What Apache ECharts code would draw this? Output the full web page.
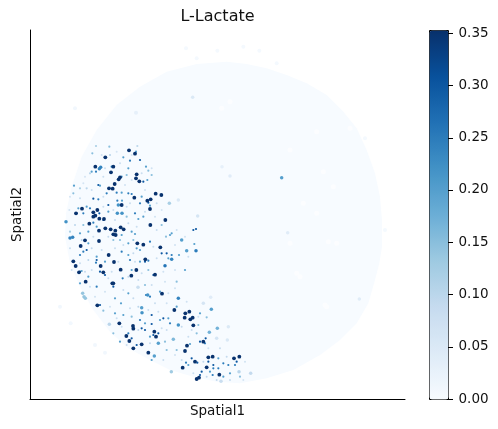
<!DOCTYPE html>
<html><head><meta charset="utf-8">
<script src="https://cdn.jsdelivr.net/npm/echarts@6/dist/echarts.min.js"></script>
<style>html,body{margin:0;padding:0;background:#fff}#c{width:498px;height:429px}</style></head>
<body><div id="c"></div>
<script>
const title = 'L-Lactate', xName = 'Spatial1', yName = 'Spatial2';
const blues = ['#f7fbff','#deebf7','#c6dbef','#9ecae1','#6baed6','#4292c6','#2171b5','#08519c','#08306b'];
const colorTicks = [0,0.05,0.10,0.15,0.20,0.25,0.30,0.35];
const colorMax = 0.353;
const tissueOutline = [[500,65],[560,72],[620,85],[680,105],[740,130],[800,165],[850,215],[890,265],[920,330],[945,400],[960,470],[966,540],[966,620],[958,670],[945,720],[925,790],[890,850],[840,900],[780,945],[700,990],[620,1015],[540,1030],[470,1025],[400,1010],[330,990],[270,960],[205,925],[150,875],[100,810],[60,740],[30,670],[15,590],[18,520],[35,440],[65,350],[110,270],[170,195],[240,140],[320,95],[410,72]];
const gaps = [[485,205],[510,185],[770,275],[790,395],[805,605],[820,440],[710,700],[795,795],[690,330],[730,490],[770,520],[870,265],[830,610],[800,800],[690,610],[720,710]];
const faint = [[378,25,0.006],[410,55,0.006],[550,20,0.006],[598,32,0.006],[45,205,0.01],[650,70,0.006],[0,800,0.01],[32,850,0.008],[105,915,0.01],[135,938,0.01],[472,32,0.006],[228,218,0.03],[915,295,0.006],[975,570,0.006]];
const dark = [[207,331],[225,341],[136,352],[106,380],[153,397],[160,380],[180,412],[176,418],[230,403],[228,415],[238,424],[147,445],[158,446],[164,432],[223,473],[287,461],[304,465],[262,482],[272,478],[185,495],[48,520],[66,506],[100,517],[106,527],[112,510],[100,530],[88,551],[132,537],[118,536],[117,572],[136,565],[152,568],[166,572],[167,585],[182,562],[191,568],[271,555],[316,540],[232,610],[250,614],[75,601],[117,603],[62,618],[301,622],[146,645],[162,666],[256,658],[40,664],[47,678],[122,678],[130,697],[57,697],[182,689],[229,690],[214,707],[285,704],[77,725],[157,730],[160,730],[306,761],[112,796],[178,850],[219,858],[220,866],[199,888],[208,903],[288,890],[283,875],[245,913],[220,925],[265,938],[343,810],[388,815],[376,820],[374,833],[391,838],[398,833],[400,856],[381,917],[375,933],[405,965],[445,952],[458,950],[440,982],[478,1004],[522,955],[538,950],[368,983],[410,1017],[417,1013],[430,905],[270,507],[160,583]].map(p => [p[0],p[1],0.35]);
const mid = [[122,382,0.24],[118,386,0.24],[30,594,0.24],[38,592,0.24],[18,545,0.22],[186,520,0.22],[172,520,0.22],[355,775,0.24],[246,818,0.22],[245,803,0.2],[295,910,0.2],[283,948,0.2],[408,632,0.25],[365,600,0.2],[380,632,0.2],[315,677,0.26],[335,658,0.24],[454,808,0.2],[472,865,0.17],[665,413,0.2],[448,877,0.17],[355,855,0.22],[340,898,0.16],[175,495,0.22],[263,765,0.22]];
const light = [[328,490,0.12],[72,770,0.14],[68,760,0.14],[76,775,0.14],[148,853,0.1],[334,995,0.13],[234,742,0.08],[398,172,0.05],[683,578,0.04],[483,1024,0.08],[898,777,0.04],[510,408,0.04],[486,380,0.03],[413,528,0.06],[355,480,0.05],[502,900,0.05],[470,895,0.06],[505,860,0.05],[537,995,0.1],[572,1000,0.09],[452,772,0.04],[430,790,0.06]];
const specks = [[97,340,.15],[108,318,.12],[148,320,.15],[150,345,.1],[190,352,.2],[210,362,.25],[240,360,.3],[228,335,.2],[232,318,.1],[258,380,.2],[265,392,.15],[275,405,.15],[262,420,.2],[250,425,.3],[205,385,.2],[200,405,.15],[185,410,.2],[155,380,.25],[95,395,.2],[108,395,.25],[90,400,.1],[115,435,.3],[120,437,.2],[140,460,.25],[170,458,.25],[185,458,.2],[205,460,.25],[215,462,.25],[100,476,.3],[115,478,.25],[145,495,.3],[172,482,.25],[186,482,.2],[240,490,.25],[265,488,.3],[245,470,.2],[270,497,.2],[235,537,.2],[250,530,.2],[225,520,.25],[42,437,.2],[40,460,.15],[60,445,.12],[80,445,.1],[80,500,.2],[55,505,.2],[50,520,.3],[70,520,.25],[90,505,.25],[118,520,.3],[145,515,.2],[200,530,.15],[110,560,.2],[130,540,.3],[100,548,.25],[70,555,.15],[30,575,.12],[60,580,.2],[85,575,.2],[185,585,.2],[215,575,.2],[225,582,.2],[160,600,.15],[180,600,.15],[205,610,.2],[220,600,.15],[240,630,.2],[230,625,.2],[270,605,.25],[305,640,.3],[320,640,.3],[335,645,.25],[325,655,.2],[357,645,.2],[318,590,.15],[330,585,.2],[305,555,.15],[335,580,.2],[400,570,.3],[408,567,.3],[403,612,.2],[85,610,.2],[80,630,.3],[70,635,.25],[60,645,.25],[110,660,.3],[108,668,.25],[110,650,.2],[135,665,.2],[185,635,.25],[205,645,.2],[210,660,.25],[265,662,.25],[255,665,.3],[240,665,.2],[60,695,.25],[65,693,.2],[120,695,.3],[135,705,.3],[85,710,.2],[60,730,.2],[110,740,.25],[188,715,.25],[160,740,.3],[215,690,.2],[265,690,.15],[280,705,.3],[375,690,.2],[350,725,.15],[255,735,.15],[205,760,.2],[165,775,.2],[183,790,.2],[258,765,.25],[270,770,.25],[300,755,.2],[120,795,.3],[130,812,.15],[165,820,.2],[190,825,.2],[215,830,.15],[240,840,.25],[255,850,.2],[275,852,.3],[275,825,.3],[300,840,.2],[325,835,.2],[330,850,.25],[310,835,.3],[350,800,.2],[420,820,.2],[440,832,.15],[160,880,.15],[180,905,.2],[205,880,.25],[215,895,.3],[230,915,.3],[255,870,.3],[245,865,.3],[270,890,.2],[280,885,.3],[295,880,.3],[315,905,.15],[320,930,.15],[275,960,.2],[415,855,.15],[410,880,.15],[420,905,.3],[437,895,.3],[435,910,.25],[390,912,.2],[378,968,.25],[395,955,.3],[412,968,.3],[445,965,.3],[460,975,.3],[475,955,.2],[490,970,.25],[505,975,.25],[525,975,.25],[530,965,.3],[460,985,.25],[450,995,.2],[425,995,.3],[420,1005,.3],[458,1005,.25],[490,1010,.2],[510,1000,.2],[385,975,.2],[350,930,.15],[475,985,.25],[540,1010,.15]];
const paleSpecks = [[125,345,.07],[170,335,.06],[215,345,.06],[180,370,.08],[135,385,.08],[75,410,.06],[130,410,.08],[215,420,.07],[245,400,.08],[275,385,.07],[70,430,.06],[95,450,.08],[195,435,.07],[255,450,.07],[30,470,.06],[60,475,.08],[130,470,.08],[210,490,.08],[290,490,.08],[305,510,.06],[130,500,.08],[160,510,.08],[200,500,.08],[28,510,.06],[255,515,.08],[285,530,.07],[165,540,.08],[205,550,.09],[230,560,.08],[45,555,.1],[290,570,.08],[350,570,.07],[375,590,.07],[65,600,.1],[100,590,.08],[145,590,.09],[190,615,.08],[280,620,.08],[345,615,.07],[30,625,.08],[95,625,.09],[125,630,.08],[165,625,.08],[220,640,.09],[290,655,.08],[385,650,.08],[85,660,.1],[60,670,.08],[175,665,.08],[225,665,.08],[95,690,.08],[155,695,.08],[245,700,.08],[310,695,.07],[345,690,.07],[35,690,.07],[75,695,.09],[205,710,.09],[145,715,.08],[235,720,.08],[315,725,.07],[90,740,.08],[135,755,.07],[190,750,.08],[275,735,.08],[325,760,.07],[345,745,.07],[220,775,.09],[105,770,.07],[150,800,.07],[285,790,.08],[320,790,.07],[380,785,.07],[235,800,.1],[170,835,.08],[210,805,.08],[295,815,.08],[365,860,.09],[395,870,.08],[415,830,.07],[265,810,.08],[235,870,.09],[185,860,.08],[320,870,.08],[305,865,.08],[270,910,.09],[345,945,.07],[200,915,.08],[310,960,.08],[385,890,.08],[445,925,.07],[480,925,.08],[365,960,.08],[430,965,.09],[500,950,.09],[555,965,.07],[440,1010,.09],[470,1020,.09],[510,1020,.08],[400,1000,.08],[550,1020,.06]];

const textColor = '#111', font = 'DejaVu Sans';
function pts(name, data, size){
  return {name, type:'scatter', xAxisIndex:0, yAxisIndex:0, data, symbolSize:size, silent:true, animation:false, itemStyle:{opacity:1}};
}
const chart = echarts.init(document.getElementById('c'), null, {renderer:'canvas'});
chart.setOption({
  animation:false, backgroundColor:'#fff',
  title:{text:title, left:217.5, top:9, padding:0, textAlign:'center', textStyle:{fontFamily:font, fontSize:16, fontWeight:'normal', color:textColor}},
  grid:[{left:30, top:30, width:375, height:369, outerBoundsMode:'none', containLabel:false},{left:429, top:30, width:19, height:369, outerBoundsMode:'none', containLabel:false}],
  xAxis:[
    {gridIndex:0, type:'value', min:-90, max:1035, name:xName, nameLocation:'middle', nameGap:5,
     nameTextStyle:{fontFamily:font, fontSize:13.5, color:textColor},
     axisLine:{onZero:false, lineStyle:{color:'#000', width:1}}, axisTick:{show:false}, axisLabel:{show:false}, splitLine:{show:false}, position:'bottom'},
    {gridIndex:1, type:'value', min:0, max:1, show:false}
  ],
  yAxis:[
    {gridIndex:0, type:'value', min:-30, max:1077, inverse:true, name:yName, nameLocation:'middle', nameGap:6,
     nameTextStyle:{fontFamily:font, fontSize:13.5, color:textColor},
     axisLine:{onZero:false, lineStyle:{color:'#000', width:1}}, axisTick:{show:false}, axisLabel:{show:false}, splitLine:{show:false}},
    {gridIndex:1, type:'value', min:0, max:colorMax, position:'right', axisLine:{show:false},
     axisTick:{show:false},
     axisLabel:{show:true, margin:10.5, customValues:colorTicks, fontFamily:font, fontSize:13.5, color:textColor, formatter:v=>v.toFixed(2)},
     splitLine:{show:false}}
  ],
  visualMap:{type:'continuous', min:0, max:colorMax, dimension:2, seriesIndex:[2,3,4,5,6,7], left:429, top:30, itemWidth:19, itemHeight:369, padding:0,
    text:null, showLabel:false, calculable:false, realtime:false, inRange:{color:blues}, borderColor:'#000', borderWidth:1, textStyle:{fontSize:0}},
  series:[
    {name:'tissue', type:'custom', xAxisIndex:0, yAxisIndex:0, data:tissueOutline, silent:true, animation:false,
     renderItem:(params, api)=> params.dataIndex===0 ? {type:'polygon', shape:{points:tissueOutline.map(p=>api.coord(p))}, style:{fill:'#f7fbff'}} : null},
    Object.assign(pts('gaps', gaps, 5), {itemStyle:{color:'#fcfdff', opacity:1}}),
    pts('faint', faint, 4),
    pts('paleSpecks', paleSpecks, 2),
    pts('light', light, 3.5),
    pts('specks', specks, 2.2),
    pts('mid', mid, 3.5),
    pts('dark', dark, 3.8),
    {name:'colorbarTicks', type:'custom', xAxisIndex:1, yAxisIndex:1, data:colorTicks.map(v=>[1,v]), silent:true, animation:false, clip:false, z:20,
     renderItem:(params, api)=>{
       const c = api.coord([api.value(0), api.value(1)]);
       const y = Math.round(c[1])+0.5;
       return {type:'line', shape:{x1:c[0], y1:y, x2:c[0]+5, y2:y}, style:{stroke:'#000', lineWidth:1}};
     }}
  ]
});
</script></body></html>
